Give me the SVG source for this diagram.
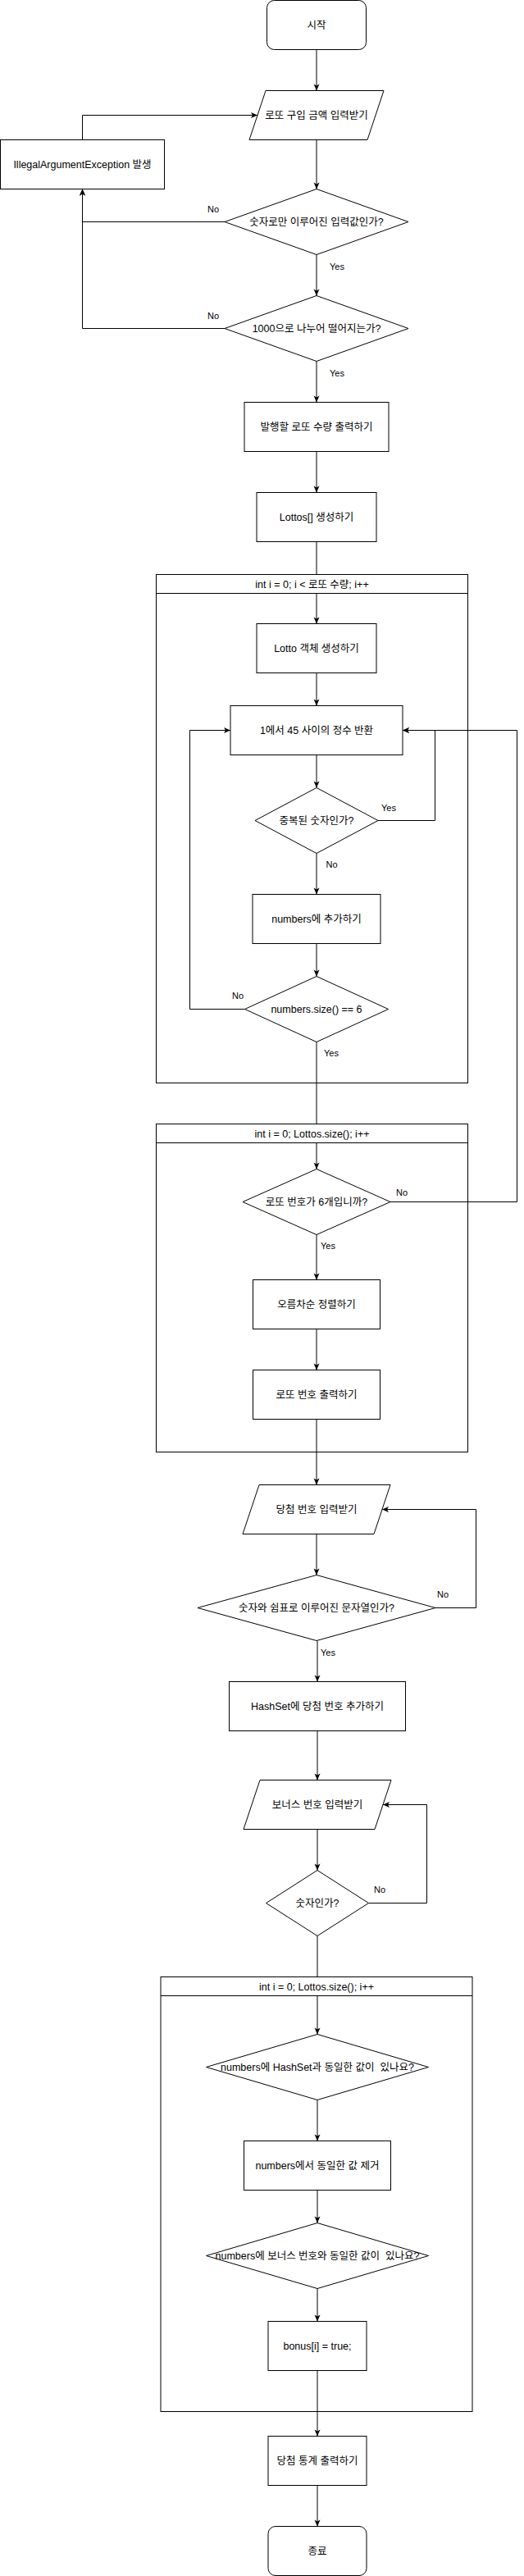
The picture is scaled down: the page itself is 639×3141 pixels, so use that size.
<svg xmlns="http://www.w3.org/2000/svg" width="639" height="3141" viewBox="0 0 639 3141">
<defs>
<style>
.n{fill:#fff;stroke:#000;stroke-width:1}
.c{fill:none;stroke:#000;stroke-width:1}
.t{font-family:"Liberation Sans",Arial,"Noto Sans CJK KR",sans-serif;font-size:12.5px;fill:#000;text-anchor:middle}
.p{white-space:pre}
.l{font-family:"Liberation Sans",Arial,sans-serif;font-size:11px;fill:#000;text-anchor:middle}
.a{marker-end:url(#arr)}
</style>
<marker id="arr" markerUnits="userSpaceOnUse" markerWidth="10" markerHeight="10" viewBox="-9 -5 10 10" refX="0" refY="0" orient="auto">
<path d="M-8,-3.5 L0,0 L-8,3.5 L-6,0 Z" fill="#000"/>
</marker>
</defs>
<rect width="639" height="3141" fill="#fff"/>

<g id="loop1"><rect class="n" x="190.5" y="700.5" width="380" height="620"/><line class="c" x1="190.5" y1="723.5" x2="570.5" y2="723.5"/><text class="t" x="380.5" y="716.5">int i = 0; i &lt; 로또 수량; i++</text></g>
<g id="loop2"><rect class="n" x="190.5" y="1370.5" width="380" height="400"/><line class="c" x1="190.5" y1="1393.5" x2="570.5" y2="1393.5"/><text class="t" x="380.5" y="1386.5">int i = 0; Lottos.size(); i++</text></g>
<g id="loop3"><rect class="n" x="196" y="2410.5" width="380" height="530"/><line class="c" x1="196" y1="2433.5" x2="576" y2="2433.5"/><text class="t" x="386" y="2426.5">int i = 0; Lottos.size(); i++</text></g>

<g id="connectors">
<path class="c a" d="M386,60.5 V110.5"/>
<path class="c a" d="M386,170.5 V230.5"/>
<path class="c a" d="M386,310.5 V360.5"/>
<path class="c a" d="M274,270.5 H100.5 V230.5"/>
<path class="c a" d="M274,400.5 H100.5 V230.5"/>
<path class="c a" d="M100.5,170.5 V140.5 H314"/>
<path class="c a" d="M386,440.5 V490.5"/>
<path class="c a" d="M386,550.5 V600.5"/>
<path class="c" d="M386,660.5 V700.5"/>
<path class="c a" d="M386,723.5 V760.5"/>
<path class="c a" d="M386,820.5 V860.5"/>
<path class="c a" d="M386,920.5 V960.5"/>
<path class="c a" d="M461,1000.5 H530.5 V890.5 H491"/>
<path class="c a" d="M386,1040.5 V1090.5"/>
<path class="c a" d="M386,1150.5 V1190.5"/>
<path class="c a" d="M298.5,1230.5 H231.5 V890.5 H281"/>
<path class="c" d="M386,1270.5 V1370.5"/>
<path class="c a" d="M386,1393.5 V1425.5"/>
<path class="c a" d="M476,1465.5 H630.5 V890.5 H491"/>
<path class="c a" d="M386,1505.5 V1560.5"/>
<path class="c a" d="M386,1620.5 V1670.5"/>
<path class="c a" d="M386,1730.5 V1810.5"/>
<path class="c a" d="M386,1870.5 V1920.5"/>
<path class="c a" d="M531,1960.5 H580.5 V1840.5 H466"/>
<path class="c a" d="M387,2000.5 V2050.5"/>
<path class="c a" d="M387,2110.5 V2170.5"/>
<path class="c a" d="M387,2230.5 V2280.5"/>
<path class="c a" d="M449.5,2320.5 H520.5 V2200.5 H467"/>
<path class="c" d="M387,2360.5 V2410.5"/>
<path class="c a" d="M387,2433.5 V2480.5"/>
<path class="c a" d="M387,2560.5 V2610.5"/>
<path class="c a" d="M387,2670.5 V2710.5"/>
<path class="c a" d="M387,2790.5 V2830.5"/>
<path class="c a" d="M387,2890.5 V2970.5"/>
<path class="c a" d="M387,3030.5 V3080.5"/>
</g>

<g id="labels">
<text class="l" x="260" y="259">No</text>
<text class="l" x="411" y="329">Yes</text>
<text class="l" x="260" y="389">No</text>
<text class="l" x="411" y="459">Yes</text>
<text class="l" x="474" y="989">Yes</text>
<text class="l" x="404.5" y="1058">No</text>
<text class="l" x="290" y="1218">No</text>
<text class="l" x="404" y="1288">Yes</text>
<text class="l" x="490" y="1458">No</text>
<text class="l" x="400" y="1523">Yes</text>
<text class="l" x="540" y="1948">No</text>
<text class="l" x="400" y="2019">Yes</text>
<text class="l" x="463" y="2308">No</text>
</g>

<g id="start"><rect class="n" x="325.5" y="0.5" width="121" height="60" rx="9"/><text class="t" x="386" y="35">시작</text></g>
<g id="input-amount"><polygon class="n" points="324,110.5 468,110.5 448,170.5 304,170.5"/><text class="t" x="386" y="145">로또 구입 금액 입력받기</text></g>
<g id="check-digits"><polygon class="n" points="386,230.5 498,270.5 386,310.5 274,270.5"/><text class="t" x="386" y="275">숫자로만 이루어진 입력값인가?</text></g>
<g id="exception"><rect class="n" x="0.5" y="170.5" width="200" height="60"/><text class="t" x="100.5" y="205">IllegalArgumentException 발생</text></g>
<g id="check-1000"><polygon class="n" points="386,360.5 498,400.5 386,440.5 274,400.5"/><text class="t" x="386" y="405">1000으로 나누어 떨어지는가?</text></g>
<g id="print-count"><rect class="n" x="298" y="490.5" width="176" height="60"/><text class="t" x="386" y="525">발행할 로또 수량 출력하기</text></g>
<g id="create-lottos"><rect class="n" x="313" y="600.5" width="146" height="60"/><text class="t" x="386" y="635">Lottos[] 생성하기</text></g>
<g id="create-lotto"><rect class="n" x="313" y="760.5" width="146" height="60"/><text class="t" x="386" y="795">Lotto 객체 생성하기</text></g>
<g id="random"><rect class="n" x="281" y="860.5" width="210" height="60"/><text class="t" x="386" y="895">1에서 45 사이의 정수 반환</text></g>
<g id="check-dup"><polygon class="n" points="386,960.5 461,1000.5 386,1040.5 311,1000.5"/><text class="t" x="386" y="1005">중복된 숫자인가?</text></g>
<g id="add-number"><rect class="n" x="308" y="1090.5" width="156" height="60"/><text class="t" x="386" y="1125">numbers에 추가하기</text></g>
<g id="check-size"><polygon class="n" points="386,1190.5 473.5,1230.5 386,1270.5 298.5,1230.5"/><text class="t" x="386" y="1235">numbers.size() == 6</text></g>
<g id="check-count"><polygon class="n" points="386,1425.5 476,1465.5 386,1505.5 296,1465.5"/><text class="t" x="386" y="1470">로또 번호가 6개입니까?</text></g>
<g id="sort"><rect class="n" x="308.5" y="1560.5" width="155" height="60"/><text class="t" x="386" y="1595">오름차순 정렬하기</text></g>
<g id="print-lotto"><rect class="n" x="308.5" y="1670.5" width="155" height="60"/><text class="t" x="386" y="1705">로또 번호 출력하기</text></g>
<g id="input-winning"><polygon class="n" points="316,1810.5 476,1810.5 456,1870.5 296,1870.5"/><text class="t" x="386" y="1845">당첨 번호 입력받기</text></g>
<g id="check-format"><polygon class="n" points="386,1920.5 531,1960.5 386,2000.5 241,1960.5"/><text class="t" x="386" y="1965">숫자와 쉼표로 이루어진 문자열인가?</text></g>
<g id="hashset"><rect class="n" x="279.5" y="2050.5" width="215" height="60"/><text class="t" x="387" y="2085">HashSet에 당첨 번호 추가하기</text></g>
<g id="input-bonus"><polygon class="n" points="317,2170.5 477,2170.5 457,2230.5 297,2230.5"/><text class="t" x="387" y="2205">보너스 번호 입력받기</text></g>
<g id="check-number"><polygon class="n" points="387,2280.5 449.5,2320.5 387,2360.5 324.5,2320.5"/><text class="t" x="387" y="2325">숫자인가?</text></g>
<g id="check-same"><polygon class="n" points="387,2480.5 522.5,2520.5 387,2560.5 251.5,2520.5"/><text class="t p" x="387" y="2525">numbers에 HashSet과 동일한 값이  있나요?</text></g>
<g id="remove-same"><rect class="n" x="297.5" y="2610.5" width="179" height="60"/><text class="t" x="387" y="2645">numbers에서 동일한 값 제거</text></g>
<g id="check-bonus"><polygon class="n" points="387,2710.5 522.5,2750.5 387,2790.5 251.5,2750.5"/><text class="t p" x="387" y="2755">numbers에 보너스 번호와 동일한 값이  있나요?</text></g>
<g id="bonus-true"><rect class="n" x="327" y="2830.5" width="120" height="60"/><text class="t" x="387" y="2865">bonus[i] = true;</text></g>
<g id="print-stats"><rect class="n" x="327" y="2970.5" width="120" height="60"/><text class="t" x="387" y="3005">당첨 통계 출력하기</text></g>
<g id="end"><rect class="n" x="327" y="3080.5" width="120" height="60" rx="9"/><text class="t" x="387" y="3115">종료</text></g>
</svg>
